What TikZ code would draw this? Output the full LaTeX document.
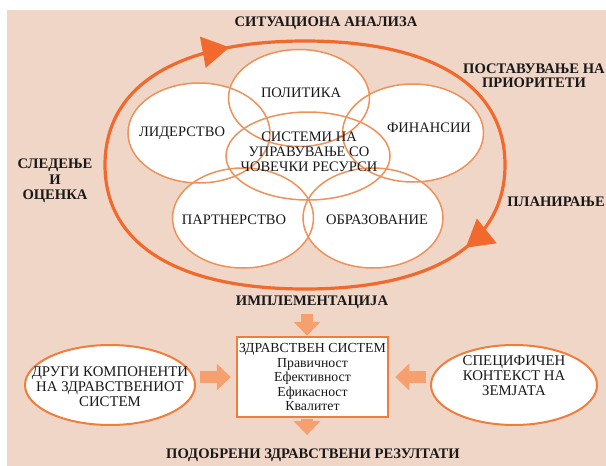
\documentclass[tikz,border=0pt]{standalone}
\usepackage{fontspec}
\setmainfont{Liberation Serif}
\usepackage{xcolor}
\usetikzlibrary{positioning, arrows.meta, shapes.geometric, decorations.markings}

\definecolor{bgpeach}{RGB}{240,214,198}
\definecolor{ringorange}{RGB}{242,105,45}
\definecolor{petalorange}{RGB}{238,145,90}
\definecolor{boxorange}{RGB}{240,125,60}
\definecolor{blockorange}{RGB}{245,160,110}

\begin{document}
\begin{tikzpicture}[
    x=1pt, y=-1pt,
    every node/.style={font=\fontsize{14.5}{15}\selectfont, text=black!90},
    petalfill/.style={ellipse, fill=white, inner sep=0pt},
    petalline/.style={draw=petalorange, line width=1.5pt},
    ring/.style={ringorange, line width=3.2pt},
    steplabel/.style={font=\fontsize{14.6}{14.5}\selectfont\bfseries, align=center},
    petallabel/.style={align=center},
    hsysbox/.style={draw=boxorange, line width=2.5pt, fill=white, minimum width=151pt, minimum height=80pt, inner sep=0pt, align=center, font=\fontsize{13.8}{14.5}\selectfont},
    sidebox/.style={ellipse, draw=boxorange, line width=2pt, fill=white, inner sep=0pt, minimum height=80pt},
    sidetext/.style={align=center, font=\fontsize{14.8}{15}\selectfont},
    blockarr/.style={-{Triangle[width=26pt,length=14pt]}, line width=12pt, draw=blockorange},
]

% ---- Canvas ----
\useasboundingbox (0,0) rectangle (606,466);
\fill[bgpeach] (7,10) rectangle (606,466);

% ---- Cycle ring ----
\draw[ring, postaction={decorate, decoration={markings,
      mark=at position 0.178 with {\arrow{Triangle[width=31pt,length=27pt]}},
      mark=at position 0.59 with {\arrow{Triangle[width=31pt,length=27pt]}}}}]
  (105,165) .. controls (105,86) and (177,41) .. (305,41)
  .. controls (433,41) and (505,86) .. (505,165)
  .. controls (505,244) and (433,289) .. (305,289)
  .. controls (177,289) and (105,244) .. (105,165) -- cycle;

% ---- Petals ----
\def\petals{pol/299/98/141/97, lid/199/133/142/100, fin/413/133/141/98, par/243/218/141/100, obr/373/218/140/100, hrm/308/156/164/88}
\foreach \nm/\px/\py/\w/\h in \petals
  \node[petalfill, minimum width=\w pt, minimum height=\h pt] (\nm) at (\px,\py) {};
\foreach \nm/\px/\py/\w/\h in \petals
  \draw[petalline] (\nm.center) ellipse [x radius=\w/2, y radius=\h/2];

\node[petallabel] (tpol) at (301,93) {ПОЛИТИКА};
\node[petallabel] (tlid) at (182,133) {ЛИДЕРСТВО};
\node[petallabel] (tfin) at (429,128) {ФИНАНСИИ};
\node[petallabel] (tpar) at (234,220) {ПАРТНЕРСТВО};
\node[petallabel] (tobr) at (377,220) {ОБРАЗОВАНИЕ};
\node[petallabel] (thrm) at (309,152) {СИСТЕМИ НА\\УПРАВУВАЊЕ СО\\ЧОВЕЧКИ РЕСУРСИ};

% ---- Cycle steps ----
\node[steplabel] (sitan) at (326,23) {СИТУАЦИОНА АНАЛИЗА};
\node[steplabel, font=\fontsize{14.6}{14}\selectfont\bfseries] (prior) at (534,76) {ПОСТАВУВАЊЕ НА\\ПРИОРИТЕТИ};
\node[steplabel] (plan) at (556,202) {ПЛАНИРАЊЕ};
\node[steplabel, font=\fontsize{14.6}{15.5}\selectfont\bfseries] (sled) at (55,181) {СЛЕДЕЊЕ\\И\\ОЦЕНКА};
\node[steplabel] (impl) at (312,302) {ИМПЛЕМЕНТАЦИЈА};

% ---- Health system ----
\node[hsysbox] (hsys) at (312.5,377) {ЗДРАВСТВЕН СИСТЕМ\\Правичност\\Ефективност\\Ефикасност\\Квалитет};
\node[sidebox, minimum width=170pt] (other) at (110,385) {};
\node[sidetext] (tother) at (110,387) {ДРУГИ КОМПОНЕНТИ\\НА ЗДРАВСТВЕНИОТ\\СИСТЕМ};
\node[sidebox, minimum width=166pt] (context) at (514,385) {};
\node[sidetext] (tcontext) at (514,376) {СПЕЦИФИЧЕН\\КОНТЕКСТ НА\\ЗЕМЈАТА};
\node[steplabel] (result) at (313,455) {ПОДОБРЕНИ ЗДРАВСТВЕНИ РЕЗУЛТАТИ};

% ---- Block arrows ----
\coordinate (axis) at (307,0);
\draw[blockarr, shorten <=2pt] (axis |- impl.south) -- (axis |- hsys.north);
\draw[blockarr, shorten <=1pt, shorten >=10pt] (axis |- hsys.south) -- (axis |- result.north);
\draw[blockarr, shorten <=4pt, shorten >=5pt] (other.east |- hsys.west) -- (hsys.west);
\draw[blockarr, shorten <=4pt, shorten >=6pt] (context.west |- hsys.east) -- (hsys.east);

\end{tikzpicture}
\end{document}
